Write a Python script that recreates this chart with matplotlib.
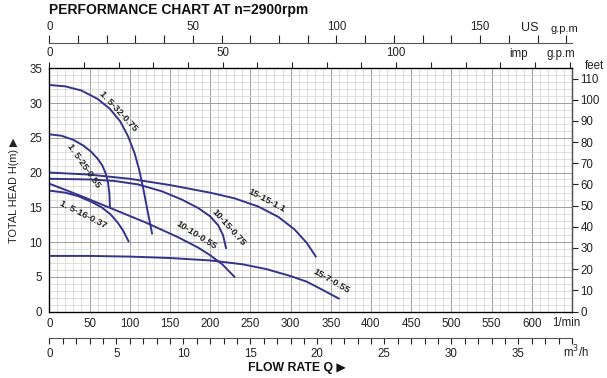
import matplotlib
matplotlib.use('Agg')
import matplotlib.pyplot as plt

plt.rcParams['font.family'] = ['Liberation Sans', 'DejaVu Sans']

# ---------------- data (flow in l/min, head in m) ----------------
q_32 = [0, 20, 40, 60, 75, 88, 98, 106, 112, 117, 122, 128]
h_32 = [32.6, 32.4, 31.8, 30.6, 29.2, 27.4, 25.2, 22.8, 20.3, 17.6, 14.6, 11.1]

q_25 = [0, 15, 30, 42, 52, 60, 66, 70, 73, 74.7, 75.4]
h_25 = [25.5, 25.3, 24.7, 23.9, 23.0, 22.0, 21.0, 19.9, 18.6, 17.0, 15.0]

q_16 = [0, 20, 36, 52, 65, 76, 85, 92, 99]
h_16 = [17.4, 17.1, 16.6, 15.8, 15.0, 14.0, 12.8, 11.6, 10.0]

q_1515 = [0, 50, 100, 150, 200, 230, 260, 285, 305, 320, 332]
h_1515 = [20.0, 19.7, 19.1, 18.2, 17.1, 16.3, 15.1, 13.6, 11.8, 9.9, 7.8]

q_1015 = [0, 50, 80, 110, 140, 165, 185, 200, 210, 216, 220]
h_1015 = [19.1, 19.0, 18.8, 18.3, 17.3, 16.1, 14.9, 13.7, 12.4, 11.0, 9.0]

q_1010 = [0, 40, 80, 120, 160, 185, 200, 215, 231]
h_1010 = [18.4, 16.6, 14.7, 12.8, 10.7, 9.2, 8.1, 6.8, 4.9]

q_157 = [0, 50, 100, 150, 200, 240, 270, 300, 320, 340, 361]
h_157 = [8.0, 8.0, 7.9, 7.7, 7.35, 6.8, 6.1, 5.1, 4.3, 3.1, 1.8]

curves = [
    (q_32, h_32), (q_25, h_25), (q_16, h_16), (q_1515, h_1515),
    (q_1015, h_1015), (q_1010, h_1010), (q_157, h_157),
]

curve_labels = ["1. 5-32-0.75", "1. 5-25-0.55", "1. 5-16-0.37", "15-15-1.1",
                "10-15-0.75", "10-10-0.55", "15-7-0.55"]
label_q = [86, 43, 42, 270, 223, 183, 351]
label_h = [28.9, 21.0, 14.0, 16.0, 12.1, 11.0, 4.4]
label_rot = [-47, -55, -27, -28, -48, -32, -30]

flow_ticks = [0, 50, 100, 150, 200, 250, 300, 350, 400, 450, 500, 550, 600]
head_ticks = [0, 5, 10, 15, 20, 25, 30, 35]
feet_ticks = [0, 10, 20, 30, 40, 50, 60, 70, 80, 90, 100, 110]
usgpm_ticks = [0, 10, 20, 30, 40, 50, 60, 70, 80, 90, 100, 110, 120, 130, 140, 150, 160, 170, 180]
usgpm_labels = [0, 50, 100, 150]
impgpm_ticks = [0, 10, 20, 30, 40, 50, 60, 70, 80, 90, 100, 110, 120, 130, 140, 150]
impgpm_labels = [0, 50, 100]
m3h_ticks = list(range(0, 40))
m3h_labels = [0, 5, 10, 15, 20, 25, 30, 35]

# ---------------- layout ----------------
W, H = 607, 378
fig = plt.figure(figsize=(W / 100, H / 100), dpi=100)


def fx(px):
    return px / W


def fy(py):
    return 1 - py / H


L, R, T, B = 49.3, 572, 68.3, 311.5
pos = [fx(L), fy(B), fx(R) - fx(L), fy(T) - fy(B)]

LINE = '#34348c'
TXT = '#222222'

ax = fig.add_axes(pos)
ax.set_xlim(0, 650)
ax.set_ylim(0, 35)
ax.set_xticks(flow_ticks)
ax.set_xticklabels([str(v) for v in flow_ticks])
ax.set_xticks(range(0, 651, 10), minor=True)
ax.set_yticks(head_ticks)
ax.set_yticks(range(0, 36), minor=True)
ax.grid(which='minor', color='#d2d2d2', lw=0.5)
ax.grid(which='major', color='#a0a0a0', lw=0.7)
ax.set_axisbelow(True)
ax.tick_params(which='both', length=0, labelsize=8.3, colors=TXT)
ax.tick_params(axis='x', pad=5)
ax.tick_params(axis='y', pad=5)
for s in ax.spines.values():
    s.set_color('#555555')
    s.set_linewidth(1.0)

for (q, h) in curves:
    ax.plot(q, h, color=LINE, lw=1.4, solid_capstyle='butt', solid_joinstyle='round')

for s, q, h, r in zip(curve_labels, label_q, label_h, label_rot):
    ax.text(q, h, s, rotation=r, rotation_mode='anchor', ha='center', va='center',
            fontsize=6.8, fontweight='bold', color=TXT)

# right feet axis
ax2 = ax.twinx()
ax2.set_ylim(0, 35 * 3.28084)
ax2.set_yticks(feet_ticks)
ax2.tick_params(axis='y', length=4, width=0.8, labelsize=8.3, pad=2, colors=TXT)
ax2.spines['right'].set_color('#555555')

# imp g.p.m on top spine
axi = fig.add_axes(pos, frameon=False)
axi.patch.set_visible(False)
axi.set_xlim(0, 150.7)
axi.set_yticks([])
axi.xaxis.set_ticks_position('top')
axi.set_xticks(impgpm_ticks)
axi.set_xticklabels([str(v) if v in impgpm_labels else '' for v in impgpm_ticks])
axi.tick_params(axis='x', direction='out', length=4.5, width=0.8, pad=2,
                labelsize=8.3, colors=TXT)

# US g.p.m separate line
axu = fig.add_axes([fx(L), fy(43.3), fx(R) - fx(L), 0.0001])
axu.patch.set_visible(False)
for k in ['left', 'right', 'bottom']:
    axu.spines[k].set_visible(False)
axu.spines['top'].set_color('#555555')
axu.set_xlim(0, 182)
axu.set_yticks([])
axu.xaxis.set_ticks_position('top')
axu.set_xticks(usgpm_ticks)
axu.set_xticklabels([str(v) if v in usgpm_labels else '' for v in usgpm_ticks])
axu.tick_params(axis='x', direction='out', length=5.5, width=0.8, pad=2,
                labelsize=8.3, colors=TXT)

# m3/h line
axm = fig.add_axes([fx(L), fy(337.5), fx(R) - fx(L), 0.0001])
axm.patch.set_visible(False)
for k in ['left', 'right', 'top']:
    axm.spines[k].set_visible(False)
axm.spines['bottom'].set_color('#555555')
axm.set_xlim(0, 39)
axm.set_yticks([])
axm.set_xticks(m3h_ticks)
axm.set_xticklabels([str(v) if v in m3h_labels else '' for v in m3h_ticks])
axm.tick_params(axis='x', direction='out', length=4.5, width=0.8, pad=3,
                labelsize=8.3, colors=TXT)

# texts
fig.text(fx(49), fy(10), 'PERFORMANCE CHART AT n=2900rpm', fontsize=10,
         fontweight='bold', ha='left', va='center', color='#111111')
fig.text(fx(538), fy(28), 'US', fontsize=9, ha='right', va='center', color=TXT)
fig.text(fx(578), fy(28.5), 'g.p.m', fontsize=8, ha='right', va='center', color=TXT)
fig.text(fx(519), fy(54), 'imp', fontsize=8.3, ha='center', va='center', color=TXT)
fig.text(fx(561), fy(54), 'g.p.m', fontsize=8.3, ha='center', va='center', color=TXT)
fig.text(fx(594), fy(66), 'feet', fontsize=8.3, ha='center', va='center', color=TXT)
fig.text(fx(566), fy(322.5), '1/min', fontsize=8.3, ha='center', va='center', color=TXT)
fig.text(fx(576), fy(352), 'm$^3$/h', fontsize=8.3, ha='center', va='center', color=TXT)
fig.text(fx(297), fy(368), 'FLOW RATE Q \u25b6', fontsize=8.8, fontweight='bold',
         ha='center', va='center', color='#111111')
fig.text(fx(14), fy(190), 'TOTAL HEAD H(m) \u25b6', fontsize=7.8, rotation=90,
         ha='center', va='center', color=TXT)

fig.savefig('out.png', dpi=100)
